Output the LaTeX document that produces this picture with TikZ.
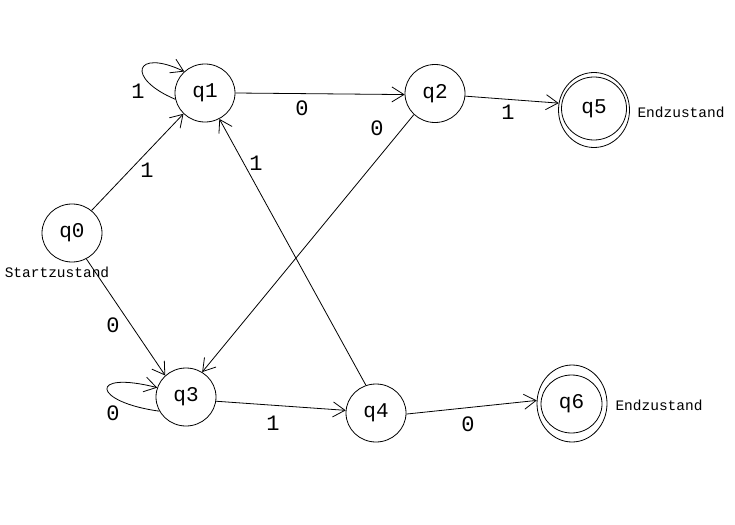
\documentclass[tikz,border=0pt]{standalone}
\usepackage{fontspec}
\setmainfont{Liberation Mono}
\usetikzlibrary{arrows.meta,shapes.geometric}
\begin{document}
\begin{tikzpicture}[x=1pt,y=-1pt,
  line width=0.8pt,
  >={Straight Barb[length=12pt,width=15pt]},
  state/.style={draw,ellipse,minimum width=60pt,minimum height=58pt,inner sep=0pt,font=\fontsize{21}{21}\selectfont},
  acc/.style={draw,ellipse,inner sep=0pt},
  elabel/.style={font=\fontsize{22}{22}\selectfont},
  note/.style={font=\fontsize{14.5}{15}\selectfont},
  arr/.style={->}]
\fill[white] (0,0) rectangle (735,524);
\useasboundingbox (0,0) rectangle (735,524);
% states
\node[state] (q0) at (72,233) {q0};
\node[state] (q1) at (205,93) {q1};
\node[state] (q2) at (435,93.5) {q2};
\node[state] (q3) at (186,397) {q3};
\node[state] (q4) at (376,413) {q4};
% accepting states
\node[acc,minimum width=71pt,minimum height=75pt] (q5) at (594,110) {};
\node[acc,minimum width=65pt,minimum height=63pt,font=\fontsize{21}{21}\selectfont] (q5i) at (594,108.5) {q5};
\node[acc,minimum width=70pt,minimum height=77pt] (q6) at (572,403.5) {};
\node[acc,minimum width=61pt,minimum height=58pt,font=\fontsize{21}{21}\selectfont] (q6i) at (571.5,404) {q6};
% notes
\node[note] (s0) at (57,272) {Startzustand};
\node[note] (e5) at (681,112) {Endzustand};
\node[note] (e6) at (659,405) {Endzustand};
% transitions
\draw[arr] (q0.49) -- (q1.224);
\draw[arr] (q0.-61) -- (q3.134);
\draw[arr] (q1.east) -- (q2.182);
\draw[arr] (q2.-5) -- (q5.169);
\draw[arr] (q2.225) -- (q3.57);
\draw[arr] (q4.110) -- (q1.-61);
\draw[arr] (q3.-8) -- (q4.175);
\draw[arr] (q4.-2) -- (q6.175);
\draw[arr] (q1.192) .. controls (125,78) and (135,48) .. (q1.134);
\draw[arr] (q3.208) .. controls (92,402) and (88,370) .. (q3.162);
% labels
\node[elabel] (l1) at (138,91) {1};
\node[elabel] (l2) at (302,108) {0};
\node[elabel] (l3) at (508,112) {1};
\node[elabel] (l4) at (147,170) {1};
\node[elabel] (l5) at (377,128) {0};
\node[elabel] (l6) at (256,163) {1};
\node[elabel] (l7) at (113,325) {0};
\node[elabel] (l8) at (113,413) {0};
\node[elabel] (l9) at (273,423) {1};
\node[elabel] (l10) at (468,424) {0};
\end{tikzpicture}
\end{document}
